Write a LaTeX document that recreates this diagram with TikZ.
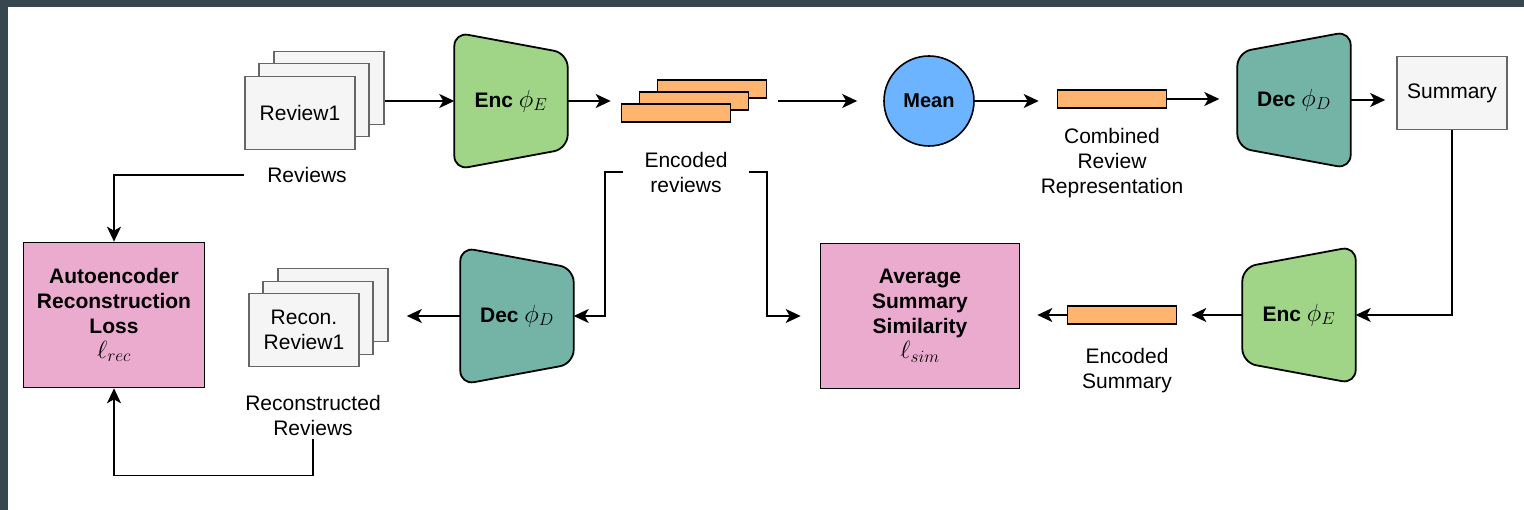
\documentclass[tikz,border=0pt]{standalone}
\usepackage{fontspec}
\setmainfont{Liberation Sans}
\usetikzlibrary{arrows.meta,backgrounds}

\definecolor{darkbg}{HTML}{37474F}
\definecolor{encgreen}{HTML}{A0D486}
\definecolor{decteal}{HTML}{74B4A6}
\definecolor{meanblue}{HTML}{6CB4FF}
\definecolor{losspink}{HTML}{EBABCF}
\definecolor{vecorange}{HTML}{FFB570}
\definecolor{docgray}{HTML}{F5F5F5}
\definecolor{docline}{HTML}{666666}

% trapezoid drawn round a named node: narrow side right / left
\newcommand{\shrinkright}[2]{%
  \draw[trap, fill=#2] (#1.north west) -- ([yshift=-21pt]#1.north east) -- ([yshift=21pt]#1.south east) -- (#1.south west) -- cycle;}
\newcommand{\shrinkleft}[2]{%
  \draw[trap, fill=#2] ([yshift=-21pt]#1.north west) -- (#1.north east) -- (#1.south east) -- ([yshift=21pt]#1.south west) -- cycle;}
% larger math symbols
\newcommand{\bigsym}[1]{{\fontsize{26}{28}\selectfont$#1$}}

\begin{document}
\begin{tikzpicture}[x=1pt, y=-1pt,
	txt/.style={font=\fontsize{21}{25}\selectfont, align=center},
	doc/.style={txt, draw=docline, fill=docgray, line width=1.6pt, minimum width=110pt, minimum height=73pt, inner sep=0pt},
	vec/.style={draw, fill=vecorange, line width=1.6pt, minimum width=109pt, minimum height=18pt, inner sep=0pt},
	lossbox/.style={txt, font=\fontsize{21}{25}\selectfont\bfseries, draw, fill=losspink, line width=1.6pt, minimum height=145pt, inner sep=0pt},
	model/.style={txt, font=\fontsize{21}{25}\selectfont\bfseries, minimum width=113pt, minimum height=137pt, inner sep=0pt},
	meanball/.style={circle, draw, fill=meanblue, line width=1.6pt, minimum size=90pt, inner sep=0pt, font=\fontsize{20}{24}\selectfont\bfseries},
	caption/.style={txt, minimum width=126pt, inner sep=4pt},
	arr/.style={-{Stealth[length=15pt, width=14pt, inset=4pt]}, line width=1.8pt},
	trap/.style={draw, line width=1.8pt, rounded corners=14pt},
	]
\useasboundingbox (0,0) rectangle (1524,510);
\begin{scope}[on background layer]
	\fill[darkbg] (0,0) rectangle (1524,510);
	\fill[white] (8,7) rectangle (1524,510);
\end{scope}

% top row
\node[doc] (revback) at (329,88) {};
\node[doc] (revmid) at (314,100) {};
\node[doc] (revfront) at (300,113) {Review1};
\node[caption] (revlabel) at (307,175) {Reviews};

\node[model] (encA) at (511,101) {Enc \bigsym{\phi_E}};
\node[vec] (encback) at (712,89) {};
\node[vec] (encmid) at (694,101) {};
\node[vec] (encfront) at (676,113) {};
\node[caption] (enclabel) at (686,172) {Encoded\\reviews};

\node[meanball] (mean) at (929,101) {Mean};
\node[vec] (comb) at (1112,99) {};
\node[caption] (comblabel) at (1112,163) {Combined\\Review\\Representation};
\node[model] (decA) at (1294,100) {Dec \bigsym{\phi_D}};
\node[doc] (summary) at (1452,93) {Summary};

% bottom row
\node[lossbox, minimum width=181pt] (aeloss) at (114,315) {Autoencoder\\Reconstruction\\Loss\\\bigsym{\ell_{rec}}};
\node[doc] (recback) at (333,305) {};
\node[doc] (recmid) at (318,318) {};
\node[doc] (recfront) at (304,330) {Recon.\\Review1};
\node[caption] (reclabel) at (313,415) {Reconstructed\\Reviews};
\node[model] (decB) at (517,316) {Dec \bigsym{\phi_D}};
\node[lossbox, minimum width=199pt] (avg) at (920,316) {Average\\Summary\\Similarity\\\bigsym{\ell_{sim}}};
\node[vec] (encsum) at (1122,315) {};
\node[caption] (sumlabel) at (1127,371) {Encoded\\Summary};
\node[model] (encB) at (1299,315) {Enc \bigsym{\phi_E}};

\begin{scope}[on background layer]
	\shrinkright{encA}{encgreen}
	\shrinkleft{decA}{decteal}
	\shrinkleft{encB}{encgreen}
	\shrinkright{decB}{decteal}
\end{scope}

% connectors
\draw[arr] (revback.east |- encA.west) -- (encA.west);
\draw[arr, shorten >=10pt] (encA.east) -- (encA.east -| encfront.west);
\draw[arr, shorten <=11pt, shorten >=26pt] (encA.east -| encback.east) -- (mean.west);
\draw[arr, shorten >=18pt] (mean.east) -- (mean.east -| comb.west);
\draw[arr, shorten >=18pt] (comb.east) -- (comb.east -| decA.west);
\draw[arr, shorten >=11pt] (decA.east) -- (decA.east -| summary.west);
\draw[arr] (summary.south) |- (encB.east);
\draw[arr, shorten >=14pt] (encB.west) -- (encB.west -| encsum.east);
\draw[arr, shorten >=17pt] (encsum.west) -- (encsum.west -| avg.east);
\draw[arr] (enclabel.west) -- ++(-18,0) |- (decB.east);
\draw[arr, shorten >=19pt] (enclabel.east) -- ++(18,0) |- (avg.west);
\draw[arr, shorten >=18pt] (decB.west) -- (decB.west -| recback.east);
\draw[arr] (revlabel.west) -| (aeloss.north);
\draw[arr] (reclabel.south) -- ++(0,36) -| (aeloss.south);
\end{tikzpicture}
\end{document}
